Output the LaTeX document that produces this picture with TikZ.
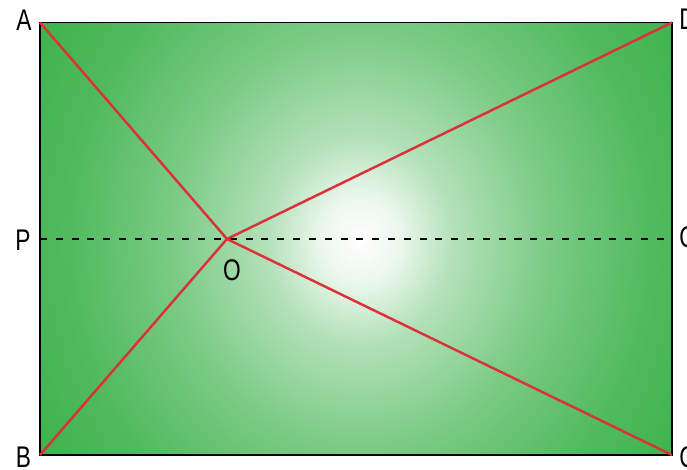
\documentclass[tikz,border=0pt]{standalone}
\usepackage{fontspec}
\setmainfont{Liberation Sans}[FakeStretch=0.76]
\definecolor{leaf}{RGB}{57,177,72}
\definecolor{redline}{RGB}{220,48,58}
\pgfdeclareradialshading{glow}{\pgfpoint{0bp}{0bp}}{color(0bp)=(white); color(3bp)=(white!90!leaf); color(7bp)=(white!62!leaf); color(14bp)=(white!34!leaf); color(22bp)=(white!12!leaf); color(30bp)=(leaf); color(50bp)=(leaf)}

\begin{document}
\begin{tikzpicture}[
    lbl/.style={inner sep=0pt, font=\fontsize{17}{17}\selectfont},
    ray/.style={draw=redline, line width=1.4pt},
    mid/.style={line width=0.9pt, dash pattern=on 4pt off 5pt}]
        \useasboundingbox (0,0) rectangle (13.74,9.38);
        \coordinate (A) at (0.8, 8.93);
        \coordinate (B) at (0.8, 0.28);
        \coordinate (C) at (13.44, 0.28);
        \coordinate (D) at (13.44, 8.93);
        \coordinate (P) at (0.8, 4.6);
        \coordinate (Q) at (13.44, 4.6);
        \coordinate (O) at (4.54, 4.6);
        % soft glow, centred a little right of the middle
        \begin{scope}
          \clip (B) rectangle (D);
          \shade[shading=glow] (0.6, -2.68) rectangle (13.8, 11.84);
        \end{scope}
        \draw[line width=1.1pt] (A) -- (B) -- (C) -- (D) -- cycle;
        \draw[mid] (P) to (Q);
        \draw[ray] (A) to (O);
        \draw[ray] (B) to (O);
        \draw[ray] (C) to (O);
        \draw[ray] (D) to (O);
        \node[lbl] (lA) at (0.48, 8.98) {A};
        \node[lbl] (lB) at (0.47, 0.24) {B};
        \node[lbl] (lP) at (0.46, 4.58) {P};
        \node[lbl, anchor=west] (lD) at (13.58, 9.0) {D};
        \node[lbl, anchor=west] (lQ) at (13.58, 4.58) {Q};
        \node[lbl, anchor=west] (lC) at (13.58, 0.24) {C};
        \node[lbl] (lO) at (4.64, 3.98) {O};
      \end{tikzpicture}
\end{document}
